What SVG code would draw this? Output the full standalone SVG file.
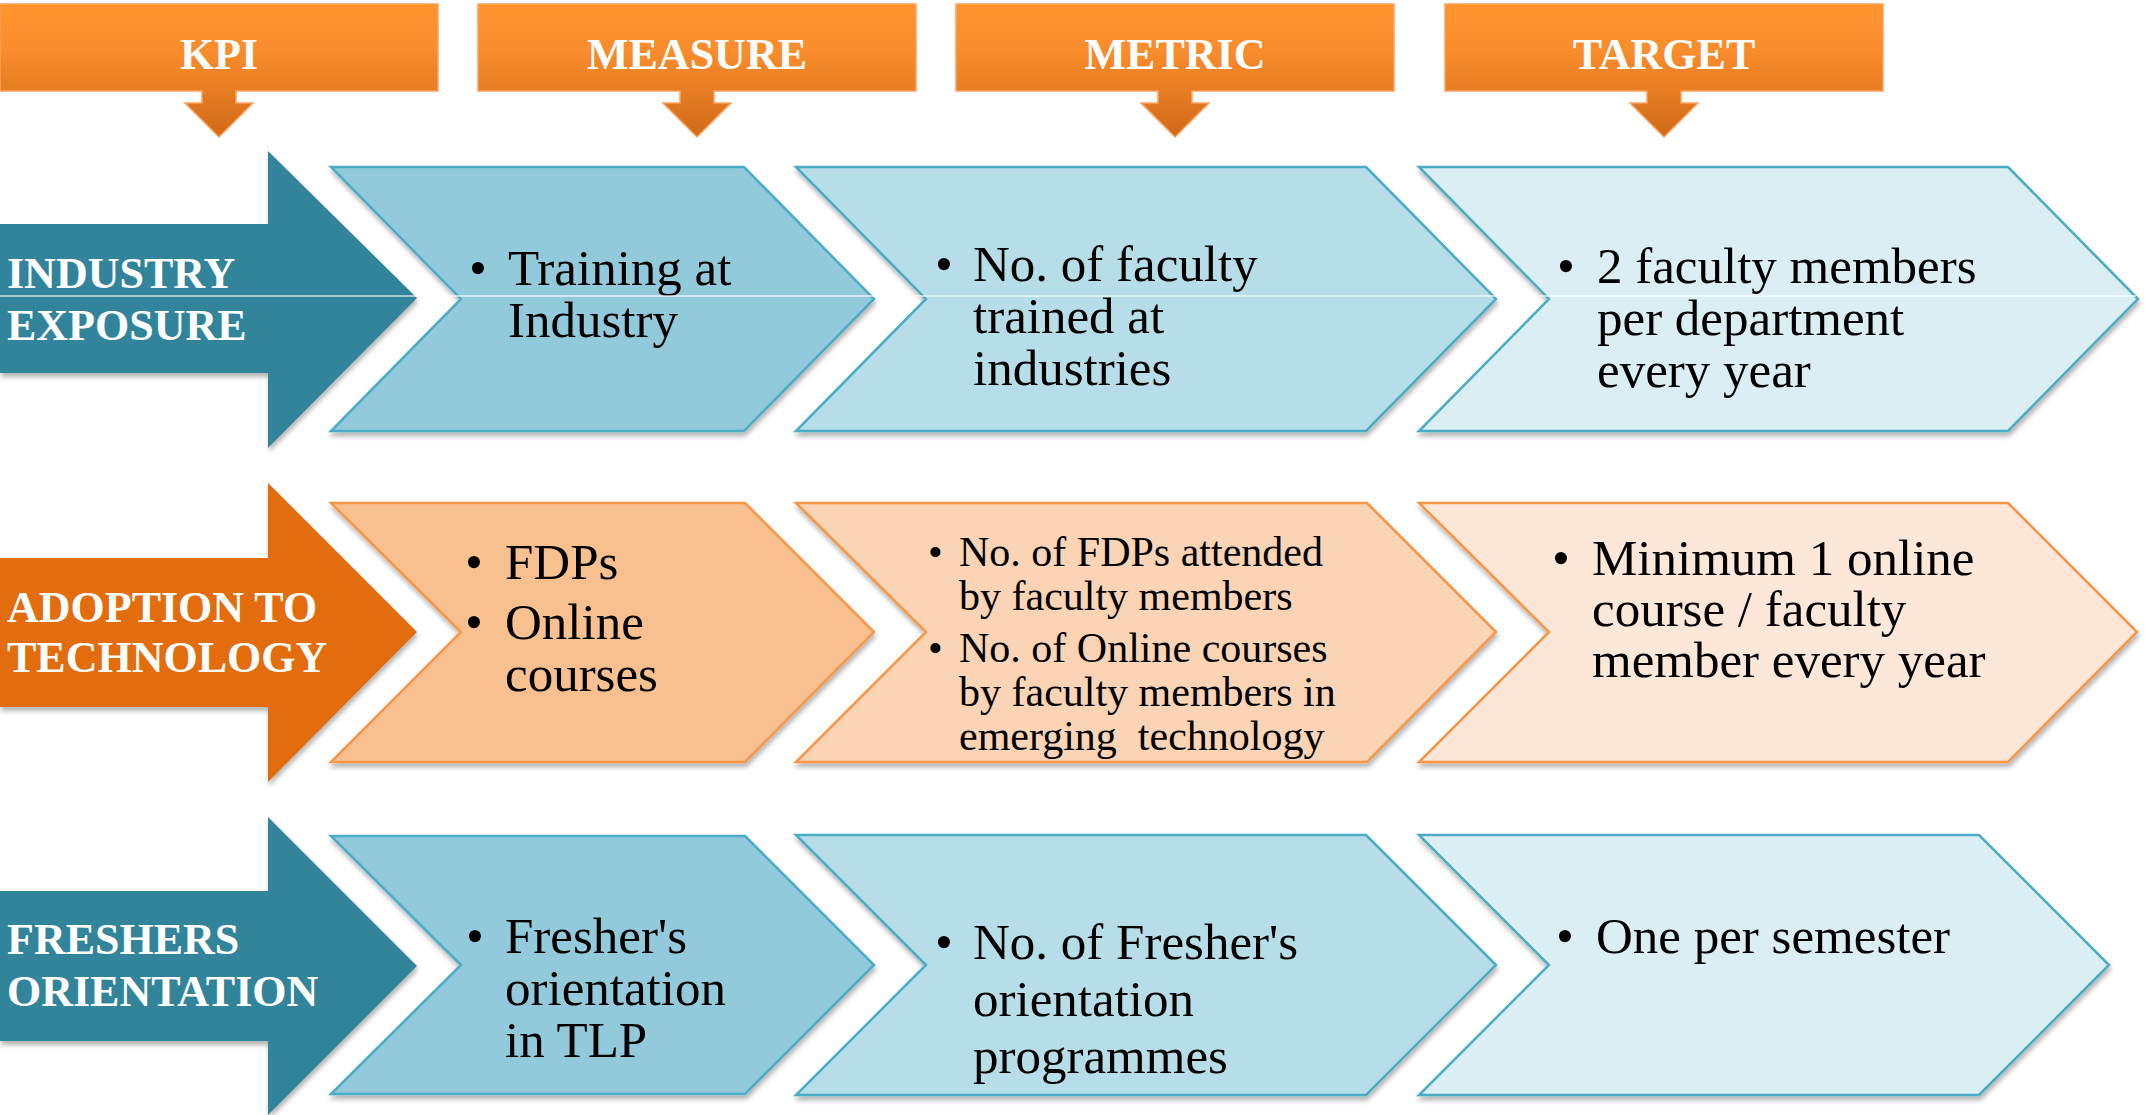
<svg xmlns="http://www.w3.org/2000/svg" width="2145" height="1115" viewBox="0 0 2145 1115">
<defs>
<linearGradient id="hdr" gradientUnits="userSpaceOnUse" x1="0" y1="4" x2="0" y2="137">
<stop offset="0" stop-color="#FF942F"/>
<stop offset="0.35" stop-color="#F98C2C"/>
<stop offset="0.66" stop-color="#E67D23"/>
<stop offset="1" stop-color="#D06818"/>
</linearGradient>
<filter id="sh" x="-5%" y="-5%" width="110%" height="115%">
<feGaussianBlur in="SourceAlpha" stdDeviation="2.5"/>
<feOffset dx="1" dy="4" result="b"/>
<feComponentTransfer><feFuncA type="linear" slope="0.3"/></feComponentTransfer>
<feMerge><feMergeNode/><feMergeNode in="SourceGraphic"/></feMerge>
</filter>
</defs>
<style>
.hd{fill:url(#hdr);stroke:#FBA25E;stroke-width:1.5}
.ht{font-family:"Liberation Serif",serif;font-weight:bold;font-size:44px;fill:#FFFFFF;text-anchor:middle}
.kt{font-family:"Liberation Serif",serif;font-weight:bold;font-size:44px;fill:#FFFFFF}
.tealA{fill:#31849B;filter:url(#sh)}
.orgA{fill:#E36C0A;filter:url(#sh)}
.b1{fill:#93CADB;stroke:#4BACC6;stroke-width:2.5;filter:url(#sh)}
.b2{fill:#B7DDE8;stroke:#4BACC6;stroke-width:2.5;filter:url(#sh)}
.b3{fill:#DBEEF3;stroke:#4BACC6;stroke-width:2.5;filter:url(#sh)}
.o1{fill:#F8C08F;stroke:#F79646;stroke-width:2.5;filter:url(#sh)}
.o2{fill:#FAD4B5;stroke:#F79646;stroke-width:2.5;filter:url(#sh)}
.o3{fill:#FCE7D9;stroke:#F79646;stroke-width:2.5;filter:url(#sh)}
.tx{font-family:"Liberation Serif",serif;font-size:51px;fill:#000000}
.sx{font-family:"Liberation Serif",serif;font-size:42px;fill:#000000}
.pre{white-space:pre}
</style>
<rect width="2145" height="1115" fill="#FFFFFF"/>

<g id="hdr-kpi">
<path class="hd" d="M0,4 H438 V91 H236 V103 H253 L219,137 L185,103 H202 V91 H0 Z"/>
<text class="ht" x="219" y="69">KPI</text>
</g>
<g id="hdr-measure">
<path class="hd" d="M478,4 H916 V91 H714 V103 H731 L697,137 L663,103 H680 V91 H478 Z"/>
<text class="ht" x="697" y="69">MEASURE</text>
</g>
<g id="hdr-metric">
<path class="hd" d="M956,4 H1394 V91 H1192 V103 H1209 L1175,137 L1141,103 H1158 V91 H956 Z"/>
<text class="ht" x="1175" y="69">METRIC</text>
</g>
<g id="hdr-target">
<path class="hd" d="M1445,4 H1883 V91 H1681 V103 H1698 L1664,137 L1630,103 H1647 V91 H1445 Z"/>
<text class="ht" x="1664" y="69">TARGET</text>
</g>

<g id="kpi-industry">
<path class="tealA" d="M0,224 L268,224 L268,151 L417,298 L268,448 L268,373 L0,373 Z"/>
<text class="kt" x="7" y="288">INDUSTRY</text>
<text class="kt" x="7" y="340">EXPOSURE</text>
</g>
<g id="measure-industry">
<path class="b1" d="M331,167 L744,167 L874,299 L744,431 L331,431 L461,299 Z"/>
<text class="tx" x="469" y="285">•</text>
<text class="tx" x="508" y="285">Training at</text>
<text class="tx" x="508" y="337">Industry</text>
</g>
<g id="metric-industry">
<path class="b2" d="M796,167 L1366,167 L1496,299 L1366,431 L796,431 L926,299 Z"/>
<text class="tx" x="935" y="281">•</text>
<text class="tx" x="973" y="281">No. of faculty</text>
<text class="tx" x="973" y="333">trained at</text>
<text class="tx" x="973" y="385">industries</text>
</g>
<g id="target-industry">
<path class="b3" d="M1419,167 L2008,167 L2138,299 L2008,431 L1419,431 L1549,299 Z"/>
<text class="tx" x="1557" y="283">•</text>
<text class="tx" x="1597" y="283">2 faculty members</text>
<text class="tx" x="1597" y="335">per department</text>
<text class="tx" x="1597" y="387">every year</text>
</g>

<g id="kpi-adoption">
<path class="orgA" d="M0,558 L268,558 L268,483 L417,632 L268,782 L268,707 L0,707 Z"/>
<text class="kt" x="7" y="622">ADOPTION TO</text>
<text class="kt" x="7" y="672">TECHNOLOGY</text>
</g>
<g id="measure-adoption">
<path class="o1" d="M331,503 L745,503 L874,632 L745,762 L331,762 L461,632 Z"/>
<text class="tx" x="465" y="579">•</text>
<text class="tx" x="505" y="579">FDPs</text>
<text class="tx" x="465" y="639">•</text>
<text class="tx" x="505" y="639">Online</text>
<text class="tx" x="505" y="691">courses</text>
</g>
<g id="metric-adoption">
<path class="o2" d="M796,503 L1367,503 L1496,632 L1367,762 L796,762 L926,632 Z"/>
<text class="sx" x="928" y="566">•</text>
<text class="sx" x="959" y="566">No. of FDPs attended</text>
<text class="sx" x="959" y="610">by faculty members</text>
<text class="sx" x="928" y="662">•</text>
<text class="sx" x="959" y="662">No. of Online courses</text>
<text class="sx" x="959" y="706">by faculty members in</text>
<text class="sx pre" x="959" y="750" xml:space="preserve">emerging  technology</text>
</g>
<g id="target-adoption">
<path class="o3" d="M1419,503 L2008,503 L2137,632 L2008,762 L1419,762 L1549,632 Z"/>
<text class="tx" x="1552" y="575">•</text>
<text class="tx" x="1592" y="575">Minimum 1 online</text>
<text class="tx" x="1592" y="626">course / faculty</text>
<text class="tx" x="1592" y="677">member every year</text>
</g>

<g id="kpi-freshers">
<path class="tealA" d="M0,891 L268,891 L268,817 L417,966 L268,1115 L268,1041 L0,1041 Z"/>
<text class="kt" x="7" y="954">FRESHERS</text>
<text class="kt" x="7" y="1006">ORIENTATION</text>
</g>
<g id="measure-freshers">
<path class="b1" d="M331,836 L745,836 L874,965 L745,1094 L331,1094 L461,965 Z"/>
<text class="tx" x="466" y="953">•</text>
<text class="tx" x="505" y="953">Fresher's</text>
<text class="tx" x="505" y="1005">orientation</text>
<text class="tx" x="505" y="1057">in TLP</text>
</g>
<g id="metric-freshers">
<path class="b2" d="M796,835 L1366,835 L1496,965 L1366,1095 L796,1095 L926,965 Z"/>
<text class="tx" x="935" y="959">•</text>
<text class="tx" x="973" y="959">No. of Fresher's</text>
<text class="tx" x="973" y="1016">orientation</text>
<text class="tx" x="973" y="1073">programmes</text>
</g>
<g id="target-freshers">
<path class="b3" d="M1419,835 L1979,835 L2109,965 L1979,1095 L1419,1095 L1549,965 Z"/>
<text class="tx" x="1556" y="953">•</text>
<text class="tx" x="1596" y="953">One per semester</text>
</g>

<g id="connectors">
<line x1="0" y1="296" x2="2136" y2="296" stroke="#FFFFFF" stroke-opacity="0.75" stroke-width="1.5"/>
</g>
</svg>
